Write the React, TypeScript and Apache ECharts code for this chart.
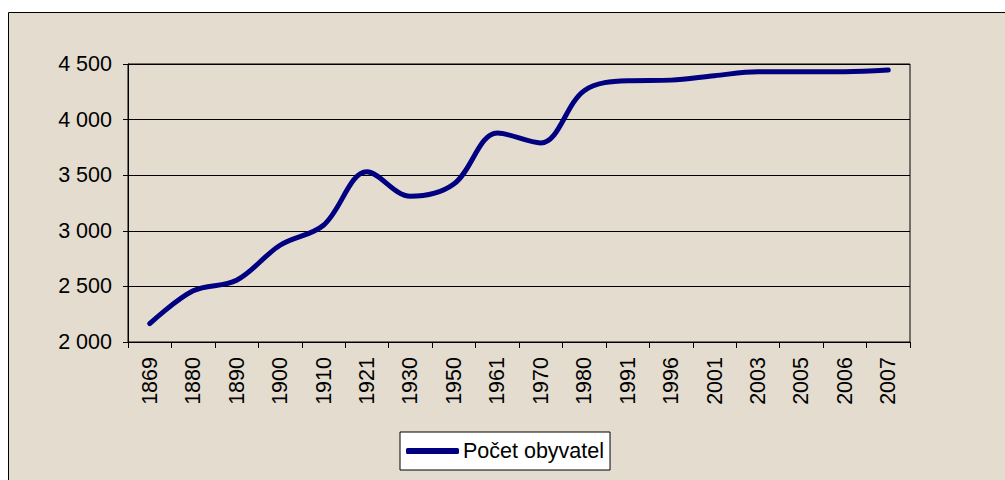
import React, { useEffect, useRef } from "react";
import * as echarts from "echarts";

const years = ["1869", "1880", "1890", "1900", "1910", "1921", "1930", "1950", "1961", "1970", "1980", "1991", "1996", "2001", "2003", "2005", "2006", "2007"];
const population = [2165, 2460, 2555, 2870, 3050, 3530, 3310, 3420, 3880, 3790, 4260, 4350, 4355, 4395, 4430, 4430, 4430, 4445];
const seriesName = "Počet obyvatel";

const FONT = "'Liberation Sans', Arial, sans-serif";
const FS = 21.5;

function fmt(v: number) {
  return String(v).replace(/\B(?=(\d{3})+(?!\d))/g, " ");
}

export default function App() {
  const ref = useRef<HTMLDivElement>(null);
  useEffect(() => {
    if (!ref.current) return;
    const chart = echarts.init(ref.current, undefined, { renderer: "svg" });
    chart.setOption({
      animation: false,
      backgroundColor: "#ffffff",
      textStyle: { fontFamily: FONT },
      graphic: [
        {
          type: "rect",
          z: -10,
          silent: true,
          shape: { x: 8.5, y: 12.5, width: 1200, height: 600 },
          style: { fill: "#e4dccf", stroke: "#000", lineWidth: 1 },
        },
      ],
      grid: {
        left: 128,
        top: 64,
        right: 95,
        bottom: 138,
        show: true,
        borderColor: "#000",
        borderWidth: 1,
        backgroundColor: "transparent",
        containLabel: false,
      },
      legend: {
        left: 400,
        top: 432,
        data: [{ name: seriesName, icon: "roundRect" }],
        itemWidth: 53,
        itemHeight: 6,
        itemGap: 0,
        padding: [8, 6, 8, 6],
        backgroundColor: "#ffffff",
        borderColor: "#000",
        borderWidth: 1,
        borderRadius: 0,
        textStyle: { fontSize: FS, color: "#000", fontFamily: FONT, padding: [0, 0, 0, -1] },
      },
      xAxis: {
        type: "category",
        data: years,
        boundaryGap: true,
        axisLine: { show: true, lineStyle: { color: "#000", width: 1 } },
        axisTick: { show: true, length: 6, inside: false, alignWithLabel: false, lineStyle: { color: "#000" } },
        axisLabel: { rotate: 90, fontSize: FS, color: "#000", margin: 15, interval: 0, fontFamily: FONT },
        splitLine: { show: false },
      },
      yAxis: {
        type: "value",
        min: 2000,
        max: 4500,
        interval: 500,
        axisLine: { show: true, lineStyle: { color: "#000", width: 1 } },
        axisTick: { show: true, length: 5, inside: false, lineStyle: { color: "#000" } },
        axisLabel: { fontSize: FS, color: "#000", margin: 16, formatter: (v: number) => fmt(v), fontFamily: FONT },
        splitLine: { show: true, lineStyle: { color: "#000", width: 1 } },
      },
      series: [
        {
          name: seriesName,
          type: "line",
          data: population,
          smooth: 0.35,
          symbol: "none",
          lineStyle: { color: "#000080", width: 5, cap: "round", join: "round" },
          itemStyle: { color: "#000080" },
        },
      ],
    });
    return () => chart.dispose();
  }, []);
  return (
    <div style={{ position: "fixed", left: 0, top: 0, width: 1005, height: 480, overflow: "hidden" }}>
      <div ref={ref} style={{ width: 1005, height: 480 }} />
    </div>
  );
}
